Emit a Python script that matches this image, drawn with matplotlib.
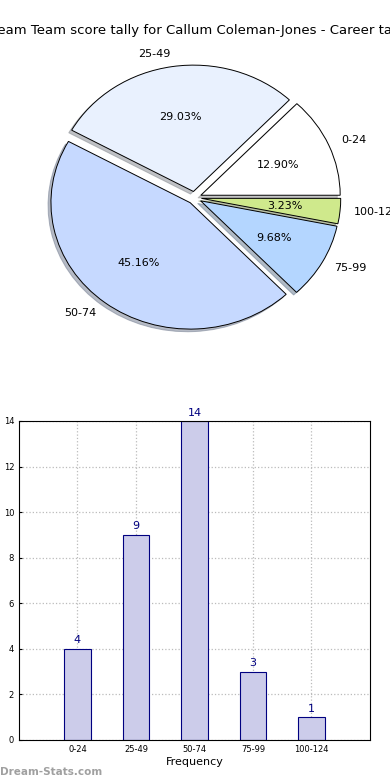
import matplotlib
matplotlib.use("Agg")
import matplotlib.pyplot as plt

# score bands and number of games in each
bands = ["0-24", "25-49", "50-74", "75-99", "100-124"]
counts = [4, 9, 14, 3, 1]
pie_colors = ["#ffffff", "#e9f1fe", "#c6d9ff", "#b4d6ff", "#cfe98c"]
title = "Dream Team score tally for Callum Coleman-Jones - Career tally"
ylabel = "Number of Games"
xlabel = "Frequency"
watermark = "Dream-Stats.com"

fig = plt.figure(figsize=(3.9, 7.8), dpi=100)

# pie chart (old-style, stretched to the axes)
ax1 = fig.add_axes([0.0487, 0.544, 0.9, 0.405])
ax1.pie(counts, labels=bands, colors=pie_colors, explode=[0.05] * len(counts),
        autopct="%1.2f%%", startangle=0,
        shadow={"ox": -0.015, "oy": -0.015, "shade": 0.45},
        wedgeprops=dict(edgecolor="black", linewidth=0.7),
        textprops=dict(fontsize=8))
ax1.set_aspect("auto")
ax1.set_xlim(-1.26, 1.26)
ax1.set_ylim(-1.25, 1.25)
ax1.set_title(title, fontsize=9.5, pad=4.5)

# bar chart
ax2 = fig.add_axes([0.0487, 0.0513, 0.9, 0.409])
pos = list(range(len(bands)))
bars = ax2.bar(pos, counts, width=0.45, color="#ccccea", edgecolor="navy",
               linewidth=0.8, zorder=2)
for b, c in zip(bars, counts):
    ax2.text(b.get_x() + b.get_width() / 2, c + 0.15, str(c), ha="center",
             va="bottom", color="navy", fontsize=8)
ax2.set_xlim(-1, 5)
ax2.set_ylim(0, 14)
ax2.set_yticks(range(0, 15, 2))
ax2.set_xticks(pos)
ax2.set_xticklabels(bands)
ax2.tick_params(labelsize=6, length=2, direction="in")
ax2.grid(True, linestyle=":", color="#bbbbbb", linewidth=0.9, zorder=0)
ax2.set_axisbelow(True)
ax2.set_xlabel(xlabel, fontsize=8, labelpad=2)
ax2.set_ylabel(ylabel, fontsize=8, labelpad=3)

fig.text(0.0, 0.004, watermark, fontsize=7.5, color="#a0a0a0",
         fontweight="bold", ha="left", va="bottom")

fig.savefig("out.png", dpi=100)
